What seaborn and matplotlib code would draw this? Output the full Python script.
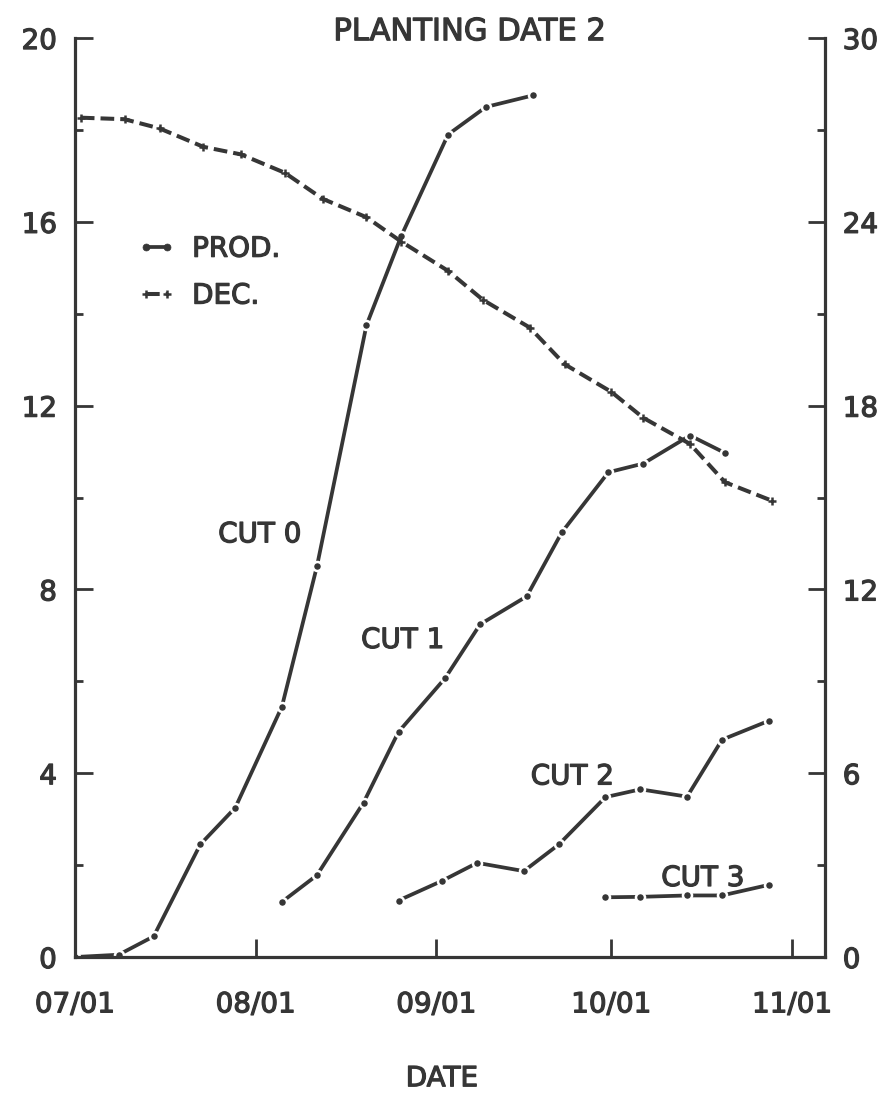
import numpy as np
import pandas as pd
import matplotlib
matplotlib.use("Agg")
import matplotlib.pyplot as plt
import matplotlib.patheffects as pe
from matplotlib.ticker import MultipleLocator, FixedLocator
from matplotlib.lines import Line2D
import seaborn as sns

# ---- data: days after 07/01 and observed values ----------------------------
cut0_days = [0, 7.5, 13.5, 21.5, 27.5, 35.5, 41.5, 50, 56, 64, 70.5, 78.5]
cut0_prod = [0, 0.05, 0.45, 2.45, 3.25, 5.45, 8.5, 13.75, 15.7, 17.9, 18.5, 18.75]

cut1_days = [35.5, 41.5, 49.5, 55.5, 63.5, 69.5, 77.5, 83.5, 91.5, 97.5, 105.5, 111.5]
cut1_prod = [1.2, 1.78, 3.36, 4.9, 6.07, 7.24, 7.85, 9.24, 10.55, 10.74, 11.35, 10.97]

cut2_days = [55.5, 63, 69, 77, 83, 91, 97, 105, 111, 119]
cut2_prod = [1.23, 1.66, 2.05, 1.87, 2.45, 3.48, 3.65, 3.49, 4.73, 5.14]

cut3_days = [91, 97, 105, 111, 119]
cut3_prod = [1.3, 1.31, 1.34, 1.34, 1.57]

dec_days = [1, 8.5, 14.5, 22, 28.5, 36, 42.5, 50, 56, 64, 70, 78, 84, 92,
            97.5, 105.5, 111.5, 119.5]
dec_vals = [27.4, 27.35, 27.05, 26.45, 26.2, 25.6, 24.75, 24.15, 23.35, 22.4,
            21.45, 20.55, 19.35, 18.45, 17.6, 16.75, 15.5, 14.9]

month_ticks = [0, 31, 62, 92, 123]
month_labels = ["07/01", "08/01", "09/01", "10/01", "11/01"]

cut_labels = ["CUT 0", "CUT 1", "CUT 2", "CUT 3"]

# ---- style -----------------------------------------------------------------
sns.set_theme(style="ticks")
plt.rcParams["font.family"] = ["DejaVu Sans"]
INK = "#363636"
FS = 20
plt.rcParams.update({
    "text.color": INK,
    "axes.edgecolor": INK,
    "axes.labelcolor": INK,
    "xtick.color": INK,
    "ytick.color": INK,
})
# slightly heavier lettering
HEAVY = [pe.withStroke(linewidth=0.9, foreground=INK)]

fig = plt.figure(figsize=(8.82, 10.93), dpi=100, facecolor="white")
ax = fig.add_axes([0.085, 0.1244, 0.85, 0.8408])
ax.set_facecolor("none")
ax2 = ax.twinx()

prod_kw = dict(color=INK, lw=2.7, marker="o", markersize=6.5,
               markerfacecolor=INK, markeredgecolor="white",
               markeredgewidth=1.8, solid_capstyle="butt")
dec_kw = dict(color=INK, lw=2.9, linestyle=(0, (3.4, 1.5)), marker="+",
              markersize=6, markeredgewidth=1.8, markeredgecolor=INK,
              dash_capstyle="butt")

series = [(cut0_days, cut0_prod), (cut1_days, cut1_prod),
          (cut2_days, cut2_prod), (cut3_days, cut3_prod)]
for days, vals in series:
    df = pd.DataFrame({"day": days, "prod": vals})
    sns.lineplot(data=df, x="day", y="prod", ax=ax, **prod_kw)

df_dec = pd.DataFrame({"day": dec_days, "dec": dec_vals})
sns.lineplot(data=df_dec, x="day", y="dec", ax=ax2, **dec_kw)

# ---- axes ------------------------------------------------------------------
ax.set_xlim(0, 128.6)
ax.set_ylim(0, 20)
ax2.set_ylim(0, 30)

for a in (ax, ax2):
    a.spines["top"].set_visible(False)
    for s in a.spines.values():
        s.set_linewidth(2.3)
        s.set_color(INK)
ax.spines["right"].set_visible(False)
ax2.spines["left"].set_visible(False)
ax2.spines["bottom"].set_visible(False)

ax.xaxis.set_major_locator(FixedLocator(month_ticks))
ax.set_xticklabels(month_labels)
ax.yaxis.set_major_locator(MultipleLocator(4))
ax.yaxis.set_minor_locator(MultipleLocator(2))
ax2.yaxis.set_major_locator(MultipleLocator(6))
ax2.yaxis.set_minor_locator(MultipleLocator(3))

ax.tick_params(axis="x", which="major", direction="in", length=13, width=2,
               pad=24, labelsize=FS)
ax.tick_params(axis="y", which="major", direction="in", length=13, width=2,
               pad=13, labelsize=FS)
ax.tick_params(axis="y", which="minor", direction="in", length=6, width=2)
ax2.tick_params(axis="y", which="major", direction="in", length=12, width=2,
                pad=13, labelsize=FS)
ax2.tick_params(axis="y", which="minor", direction="in", length=6, width=2)

ax.set_ylabel("")
ax2.set_ylabel("")
ax.set_xlabel("")

for lab in ax.get_xticklabels() + ax.get_yticklabels() + ax2.get_yticklabels():
    lab.set_path_effects(HEAVY)

# ---- labels ----------------------------------------------------------------
label_pos = [(31.7, 9.2), (56.2, 6.9), (85.3, 3.93), (107.7, 1.72)]
for text, (lx, ly) in zip(cut_labels, label_pos):
    ax.text(lx, ly, text, fontsize=FS, ha="center", va="center", color=INK,
            path_effects=HEAVY)

fig.text(0.532, 0.971, "PLANTING DATE 2", fontsize=22, ha="center",
         va="center", color=INK, path_effects=HEAVY)
fig.text(0.501, 0.0135, "DATE", fontsize=FS, ha="center", va="center",
         color=INK, path_effects=HEAVY)

# legend keys: solid line with end dots, dashed line with end crosses
handles = [
    Line2D([], [], color=INK, lw=2.7, marker="o", markersize=5,
           markerfacecolor=INK, markeredgecolor=INK, markeredgewidth=0.5),
    Line2D([], [], **dec_kw),
]
leg = ax.legend(handles, ["PROD.", "DEC."], loc="upper left",
                bbox_to_anchor=(0.084, 0.786), frameon=False, fontsize=FS,
                handlelength=1.35, handletextpad=0.6, labelspacing=0.68,
                borderpad=0, borderaxespad=0, numpoints=2)
for t in leg.get_texts():
    t.set_color(INK)
    t.set_path_effects(HEAVY)

fig.savefig("out.png", dpi=100, facecolor="white")
